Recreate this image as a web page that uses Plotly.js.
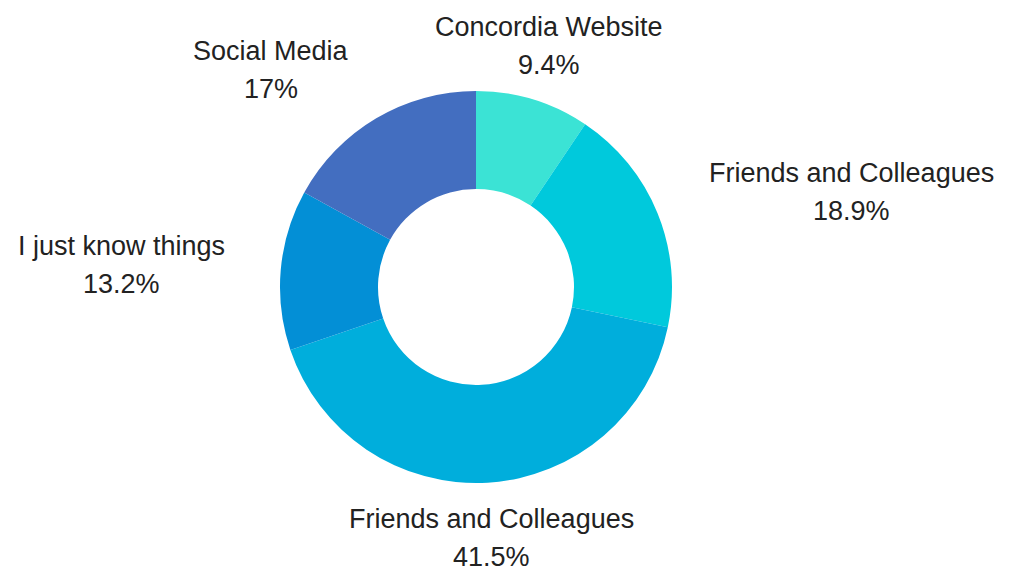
<!DOCTYPE html>
<html>
<head>
<meta charset="utf-8">
<script src="https://cdn.plot.ly/plotly-3.0.1.min.js"></script>
<style>html,body{margin:0;padding:0;background:#fff;}#chart{width:1013px;height:574px;}</style>
</head>
<body>
<div id="chart"></div>
<script>
const categories = ['Concordia Website', 'Friends and Colleagues', 'Friends and Colleagues', 'I just know things', 'Social Media'];
const values = [9.4, 18.9, 41.5, 13.2, 17];
const colors = ['#3BE3D5', '#00C9DC', '#00AEDC', '#038FD6', '#436EC0'];

const W = 1013, H = 574;
const cx = 476, cy = 287, R = 196;
const labelRadius = 1.285 * R;
const fontFamily = 'Liberation Sans, Arial, sans-serif';
const fontSize = 27;
const lineGap = 38;
const ids = categories.map((c, i) => 'slice' + i);

const donut = {
  type: 'pie',
  labels: ids,
  values: values,
  text: categories,
  hole: 0.5,
  sort: false,
  direction: 'clockwise',
  rotation: 0,
  marker: {colors: colors, line: {width: 0}},
  textinfo: 'none',
  hoverinfo: 'text+percent',
  domain: {
    x: [(cx - R) / W, (cx + R) / W],
    y: [(H - cy - R) / H, (H - cy + R) / H]
  },
  showlegend: false
};

// outside labels placed along each slice's mid-angle
const ctx = document.createElement('canvas').getContext('2d');
ctx.font = fontSize + 'px ' + fontFamily;
const total = values.reduce((a, b) => a + b, 0);
const annotations = [];
let cum = 0;
values.forEach((v, i) => {
  const mid = (cum + v / 2) / total * 2 * Math.PI;
  cum += v;
  const s = Math.sin(mid), c = Math.cos(mid);
  const pct = (Math.round(v / total * 1000) / 10) + '%';
  const w = Math.max(ctx.measureText(categories[i]).width, ctx.measureText(pct).width);
  const side = Math.abs(s) < 0.4 ? 0 : Math.sign(s);
  const px = cx + labelRadius * s + side * w / 2;
  const py = cy - labelRadius * c;
  [[categories[i], -lineGap / 2], [pct, lineGap / 2]].forEach(([t, off]) => {
    annotations.push({
      xref: 'paper', yref: 'paper',
      x: px / W, y: (H - py - off) / H,
      xanchor: 'center', yanchor: 'middle',
      text: t, showarrow: false,
      font: {family: fontFamily, size: fontSize, color: '#222'}
    });
  });
});

Plotly.newPlot('chart', [donut], {
  width: W, height: H,
  margin: {l: 0, r: 0, t: 0, b: 0},
  paper_bgcolor: '#fff',
  showlegend: false,
  annotations: annotations
}, {displayModeBar: false});
</script>
</body>
</html>
